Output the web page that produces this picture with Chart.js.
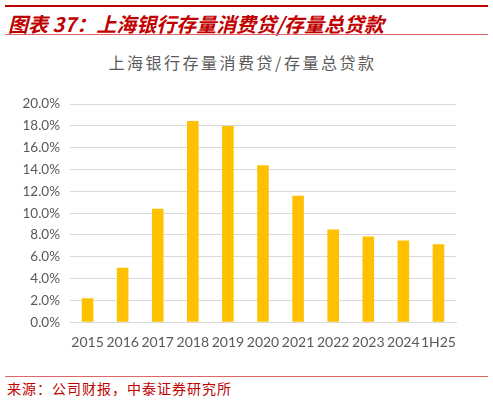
<!DOCTYPE html>
<html>
<head>
<meta charset="utf-8">
<script src="https://cdn.jsdelivr.net/npm/chart.js@4"></script>
<style>
  body { margin: 0; background: #fff; width: 493px; height: 400px; position: relative; overflow: hidden; }
  .topline { position: absolute; left: 5px; top: 5px; width: 483px; height: 2px; background: #c00000; }
  .heading { position: absolute; left: 8px; top: 9px; font-family: "Noto Sans CJK SC", sans-serif; font-weight: bold; font-style: italic; font-size: 20px; color: #c00000; white-space: nowrap; }
  .subline { position: absolute; left: 5px; top: 34px; width: 483px; height: 1px; background: #d66; }
  .charttitle { position: absolute; left: 0; width: 485px; top: 50px; text-align: center; font-family: "Noto Sans CJK SC", sans-serif; font-size: 16px; letter-spacing: 2.5px; color: #595959; }
  .bottomline { position: absolute; left: 5px; top: 376px; width: 483px; height: 1px; background: #d66; }
  .source { position: absolute; left: 7px; top: 378px; font-family: "Noto Sans CJK SC", sans-serif; font-size: 14px; letter-spacing: 1px; color: #c00000; white-space: nowrap; }
  #box { position: absolute; left: 0; top: 86px; width: 493px; height: 275px; }
</style>
</head>
<body>
<div class="topline"></div>
<div class="heading">图表 37：上海银行存量消费贷/存量总贷款</div>
<div class="subline"></div>
<div class="charttitle">上海银行存量消费贷/存量总贷款</div>
<div id="box"><canvas id="chart"></canvas></div>
<div class="bottomline"></div>
<div class="source">来源：公司财报，中泰证券研究所</div>
<script>
const years = ['2015', '2016', '2017', '2018', '2019', '2020', '2021', '2022', '2023', '2024', '1H25'];
const ratio = [2.2, 5.0, 10.4, 18.45, 18.0, 14.4, 11.6, 8.5, 7.85, 7.5, 7.15];
const yTicks = [0, 2, 4, 6, 8, 10, 12, 14, 16, 18, 20];

const ctx = document.getElementById('chart').getContext('2d');
new Chart(ctx, {
    type: 'bar',
    data: {
        labels: years,
        datasets: [{
            data: ratio,
            backgroundColor: '#ffc000',
            categoryPercentage: 1,
            barPercentage: 0.33
        }]
    },
    options: {
        responsive: true,
        maintainAspectRatio: false,
        animation: false,
        layout: { padding: { left: 0, right: 37, top: 8, bottom: 6 } },
        plugins: {
            legend: { display: false },
            tooltip: { enabled: false }
        },
        scales: {
            x: {
                grid: { display: false },
                border: { color: '#d9d9d9', width: 1 },
                ticks: {
                    color: '#595959',
                    font: { family: 'Lato, sans-serif', size: 14 },
                    maxRotation: 0,
                    autoSkip: false,
                    padding: 4
                }
            },
            y: {
                min: 0,
                max: 20,
                afterBuildTicks: (s) => { s.ticks = yTicks.map(v => ({ value: v })); },
                afterFit: (s) => { s.width = 70; },
                grid: { color: '#d9d9d9', lineWidth: 1, drawTicks: false },
                border: { display: false },
                ticks: {
                    color: '#595959',
                    font: { family: 'Lato, sans-serif', size: 13.5 },
                    padding: 10,
                    callback: (v) => v.toFixed(1) + '%'
                }
            }
        }
    }
});
</script>
</body>
</html>
